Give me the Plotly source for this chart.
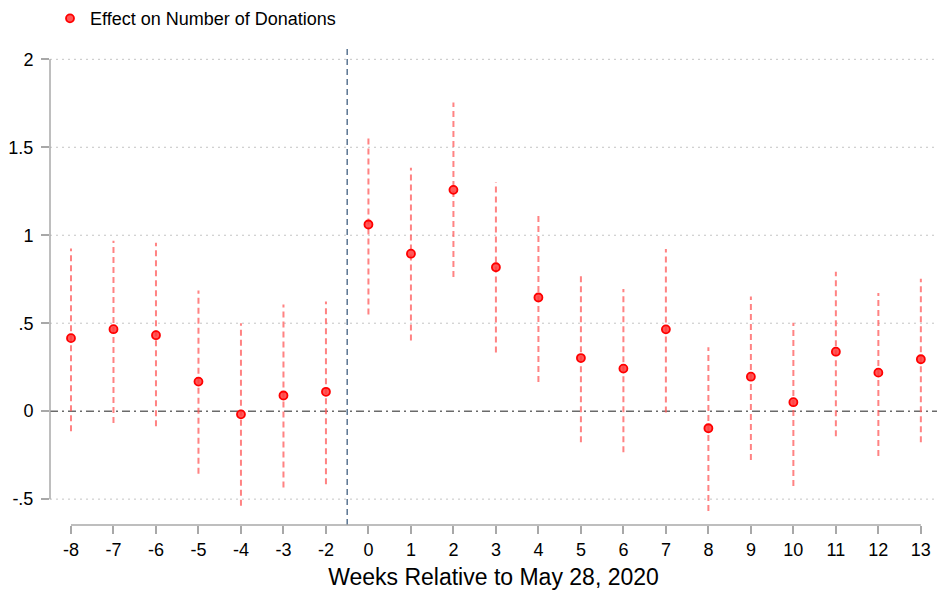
import plotly.graph_objects as go

weeks = [-8, -7, -6, -5, -4, -3, -2, 0, 1, 2, 3, 4, 5, 6, 7, 8, 9, 10, 11, 12, 13]
effect = [0.415, 0.466, 0.432, 0.168, -0.018, 0.089, 0.110, 1.061, 0.895, 1.258, 0.818,
          0.646, 0.302, 0.242, 0.465, -0.097, 0.196, 0.051, 0.338, 0.219, 0.295]
ci_low = [-0.114, -0.067, -0.086, -0.355, -0.538, -0.434, -0.415, 0.549, 0.402, 0.762, 0.333,
          0.166, -0.177, -0.234, -0.007, -0.567, -0.278, -0.425, -0.142, -0.255, -0.177]
ci_high = [0.924, 0.969, 0.958, 0.686, 0.500, 0.607, 0.624, 1.573, 1.384, 1.754, 1.303,
           1.126, 0.770, 0.695, 0.922, 0.364, 0.652, 0.503, 0.793, 0.672, 0.752]
y_ticks = [2, 1.5, 1, 0.5, 0, -0.5]
y_tick_labels = ["2", "1.5", "1", ".5", "0", "-.5"]
event_position = 6.5  # between -2 and 0

idx = list(range(len(weeks)))
x_labels = [str(w) for w in weeks]

ci_x, ci_y = [], []
for i, lo, hi in zip(idx, ci_low, ci_high):
    ci_x += [i, i, None]
    ci_y += [lo, hi, None]

fig = go.Figure()
fig.add_trace(go.Scatter(
    x=ci_x, y=ci_y, mode="lines", showlegend=False, hoverinfo="skip",
    line=dict(color="rgba(255,90,90,0.75)", width=2, dash="6px,4px"),
))
fig.add_trace(go.Scatter(
    x=idx, y=effect, mode="markers", name="Effect on Number of Donations",
    marker=dict(size=8, color="rgba(255,60,60,0.85)", line=dict(color="#ff0000", width=1.8)),
))

shapes = []
for t in y_ticks:
    if t != 0:
        shapes.append(dict(type="line", xref="paper", yref="y", x0=0, x1=1, y0=t, y1=t,
                           line=dict(color="#c4c4c4", width=1, dash="2px,4px"), layer="below"))
shapes.append(dict(type="line", xref="paper", yref="y", x0=0, x1=1, y0=0, y1=0,
                   line=dict(color="#6a6a6a", width=1.5, dash="8px,4px,2px,4px"), layer="below"))
shapes.append(dict(type="line", xref="x", yref="paper", x0=event_position, x1=event_position,
                   y0=0, y1=1, line=dict(color="#5a7592", width=1.5, dash="6px,4px"), layer="below"))
shapes.append(dict(type="line", xref="paper", yref="y", x0=0, x1=0,
                   y0=min(y_ticks), y1=max(y_ticks), line=dict(color="#a8a8a8", width=1.5)))
shapes.append(dict(type="line", xref="x", yref="paper", x0=idx[0], x1=idx[-1],
                   y0=0, y1=0, line=dict(color="#a8a8a8", width=1.5)))

fig.update_layout(
    width=937, height=591,
    margin=dict(l=50, r=0, t=45, b=66),
    paper_bgcolor="white", plot_bgcolor="white",
    font=dict(family="Liberation Sans, Arial, sans-serif", color="#000000"),
    shapes=shapes,
    showlegend=True,
    legend=dict(x=0.0, y=1.098, xanchor="left", yanchor="top",
                font=dict(size=18), bgcolor="rgba(0,0,0,0)"),
    xaxis=dict(
        range=[-0.494, 20.38], tickmode="array", tickvals=idx, ticktext=x_labels,
        showgrid=False, zeroline=False, showline=False,
        ticks="outside", ticklen=8, tickwidth=1.5, tickcolor="#a8a8a8",
        tickfont=dict(size=18),
        title=dict(text="Weeks Relative to May 28, 2020", font=dict(size=23), standoff=10),
    ),
    yaxis=dict(
        range=[-0.647, 2.07], tickmode="array", tickvals=y_ticks, ticktext=y_tick_labels,
        showgrid=False, zeroline=False, showline=False,
        ticks="outside", ticklen=8, tickwidth=1.5, tickcolor="#a8a8a8",
        tickfont=dict(size=18), ticklabelstandoff=4,
    ),
)

fig.write_html("out.html")
